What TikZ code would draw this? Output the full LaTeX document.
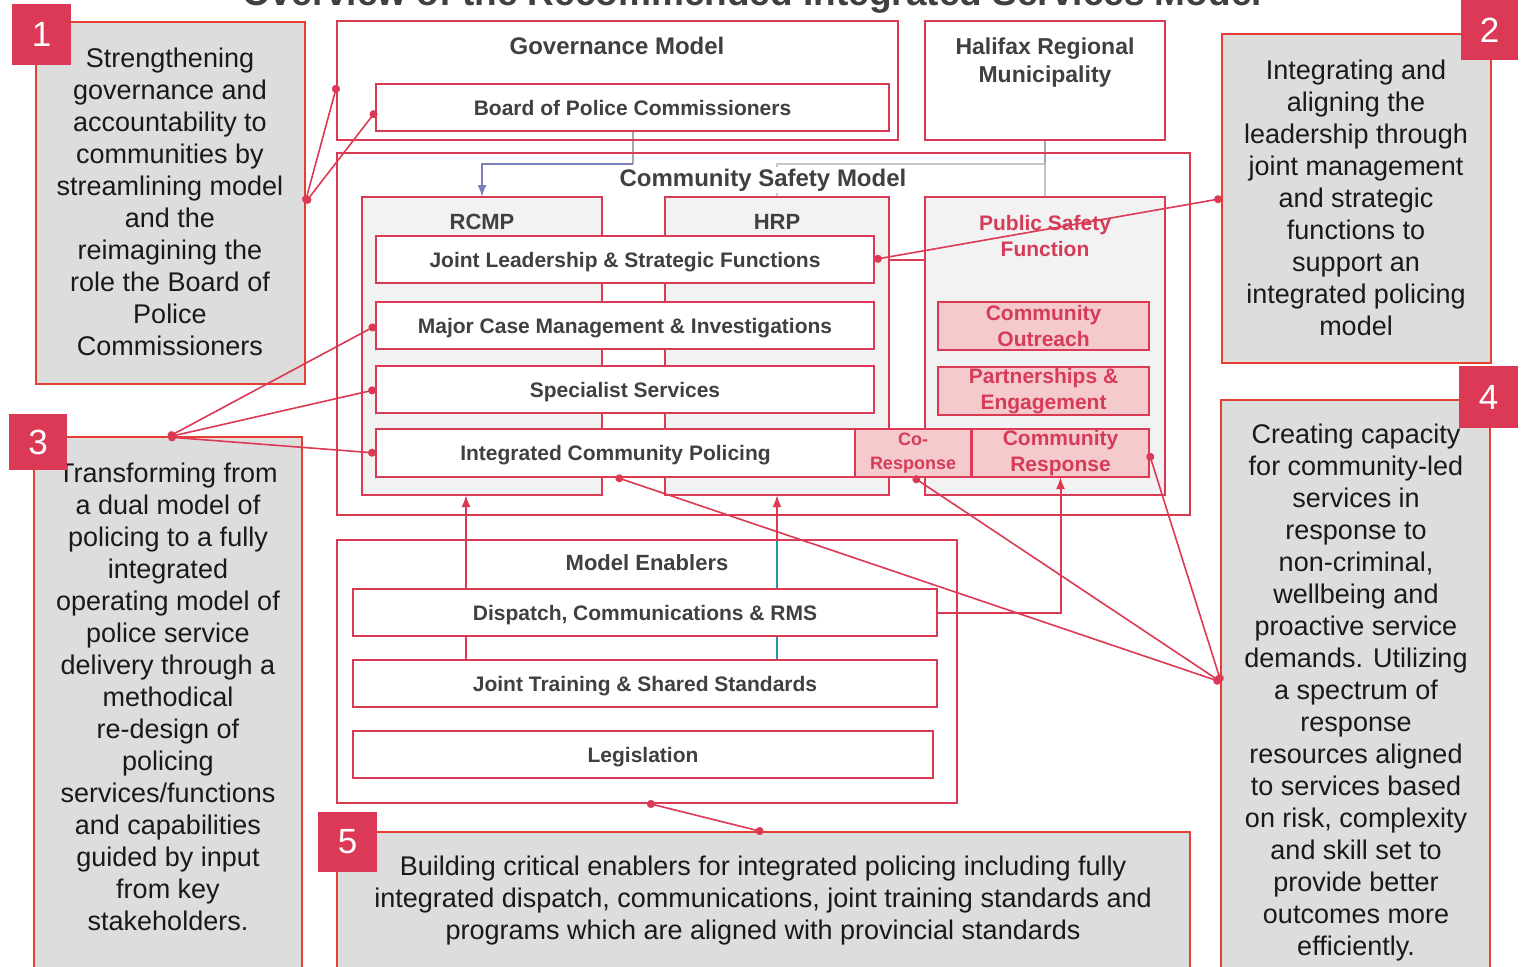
\documentclass[tikz,border=0pt]{standalone}
\usepackage{fontspec}
\setmainfont{Liberation Sans}
\usetikzlibrary{arrows.meta,backgrounds}
\definecolor{boxred}{HTML}{DC3955}
\definecolor{calloutred}{HTML}{E63E32}
\definecolor{calloutfill}{HTML}{DDDDDD}
\definecolor{tagred}{HTML}{DB3956}
\definecolor{pinkfill}{HTML}{F4CACC}
\definecolor{pinktext}{HTML}{D63C58}
\definecolor{labelgray}{HTML}{404040}
\definecolor{unitfill}{HTML}{F2F2F2}
\definecolor{linkblue}{HTML}{7C7FBC}
\definecolor{linkteal}{HTML}{1B9AAA}

\begin{document}
\begin{tikzpicture}[x=0.5pt, y=-0.5pt,
  boxsize/.style 2 args={minimum width=#1*0.5pt, minimum height=#2*0.5pt},
  redbox/.style={draw=boxred, line width=1pt, inner sep=0pt, outer sep=0pt},
  unitbox/.style={redbox, fill=unitfill},
  rowbox/.style={redbox, fill=white, font=\bfseries\fontsize{10.5}{13}\selectfont, text=labelgray, text height=8pt, text depth=0.5pt},
  pinkrow/.style={redbox, fill=pinkfill, font=\bfseries\fontsize{10.5}{13}\selectfont, text=pinktext, align=center},
  headtext/.style={font=\bfseries\fontsize{12}{14}\selectfont, text=labelgray, inner sep=1pt, align=center},
  callout/.style={draw=calloutred, line width=1pt, fill=calloutfill, inner sep=0pt, outer sep=0pt},
  callouttext/.style={font=\fontsize{13.5}{16}\selectfont, text=black!90, align=center, inner sep=0pt},
  numtag/.style={fill=tagred, text=white, font=\fontsize{17.5}{20}\selectfont, inner sep=0pt},
  calloutlink/.style={draw=boxred, line width=0.8pt, {Circle[length=4pt]}-{Circle[length=4pt]}},
  feedline/.style={line width=1pt, -{Latex[length=6pt, width=4.5pt]}}
]
  \useasboundingbox (0,0) rectangle (1529,966);
  \node[font=\bfseries\fontsize{18.5}{22}\selectfont, text=labelgray, anchor=base, inner sep=0pt] (title) at (752,5) {Overview of the Recommended Integrated Services Model};

  \node[redbox, boxsize={561}{119}] (gov) at (617.5,80.5) {};
  \node[headtext] (govtitle) at (617,46) {Governance Model};
  \node[rowbox, boxsize={513}{47}] (board) at (632.5,107.5) {Board of Police Commissioners};
  \node[redbox, boxsize={240}{119}] (hrm) at (1045,80.5) {};
  \node[headtext, font=\bfseries\fontsize{11.5}{14}\selectfont] (hrmtitle) at (1045,63) {Halifax Regional\\Municipality};

  \node[redbox, boxsize={853}{362}] (csm) at (763.5,334) {};
  \node[unitbox, boxsize={240}{298}] (rcmp) at (482,346) {};
  \node[unitbox, boxsize={224}{298}] (hrp) at (777,346) {};
  \node[unitbox, boxsize={240}{298}] (psf) at (1045,346) {};
  \node[headtext, fill=white] (csmtitle) at (763,180) {Community Safety Model};
  \node[headtext, font=\bfseries\fontsize{11}{13}\selectfont] (rcmplabel) at (482,222) {RCMP};
  \node[headtext, font=\bfseries\fontsize{11}{13}\selectfont] (hrplabel) at (777,222) {HRP};
  \node[headtext, text=pinktext, font=\bfseries\fontsize{10.5}{13}\selectfont] (psflabel) at (1045,236) {Public Safety\\Function};

  \node[rowbox, boxsize={498}{47}] (jlsf) at (625,259.5) {Joint Leadership \& Strategic Functions};
  \node[rowbox, boxsize={498}{47}] (mcmi) at (625,325.5) {Major Case Management \& Investigations};
  \node[rowbox, boxsize={498}{47}] (spec) at (625,389.5) {Specialist Services};
  \node[rowbox, boxsize={479}{48}] (icp) at (615.5,453) {Integrated Community Policing};
  \node[pinkrow, boxsize={116}{48}, font=\bfseries\fontsize{9}{12}\selectfont] (cores) at (913,453) {Co-\\Response};
  \node[pinkrow, boxsize={177}{48}] (comres) at (1060.5,453) {Community\\Response};
  \node[pinkrow, boxsize={211}{48}] (outreach) at (1043.5,326) {Community\\Outreach};
  \node[pinkrow, boxsize={211}{48}] (partner) at (1043.5,391) {Partnerships \&\\Engagement};

  \node[redbox, boxsize={620}{263}] (enablers) at (647,671.5) {};
  \node[headtext, font=\bfseries\fontsize{11}{13}\selectfont] (enablerstitle) at (647,563) {Model Enablers};
  \node[rowbox, boxsize={584}{47}] (dispatch) at (645,612.5) {Dispatch, Communications \& RMS};
  \node[rowbox, boxsize={584}{47}] (training) at (645,683.5) {Joint Training \& Shared Standards};
  \node[rowbox, boxsize={580}{47}] (legis) at (643,754.5) {Legislation};

  \node[callout, boxsize={269}{362}] (c1) at (170.5,203) {};
  \node[callouttext] (c1text) at (170,202) {Strengthening\\governance and\\accountability to\\communities by\\streamlining model\\and the\\reimagining the\\role the Board of\\Police\\Commissioners};
  \node[numtag, boxsize={59}{61}] (tag1) at (41.5,34.5) {1};

  \node[callout, boxsize={269}{329}] (c2) at (1356.5,198.5) {};
  \node[callouttext] (c2text) at (1356,198) {Integrating and\\aligning the\\leadership through\\joint management\\and strategic\\functions to\\support an\\integrated policing\\model};
  \node[numtag, boxsize={57}{60}] (tag2) at (1489.5,30) {2};

  \node[callout, boxsize={268}{553}] (c3) at (168,713.5) {};
  \node[callouttext] (c3text) at (168,697) {Transforming from\\a dual model of\\policing to a fully\\integrated\\operating model of\\police service\\delivery through a\\methodical\\re-design of\\policing\\services/functions\\and capabilities\\guided by input\\from key\\stakeholders.};
  \node[numtag, boxsize={58}{56}] (tag3) at (38,442) {3};

  \node[callout, boxsize={269}{590}] (c4) at (1355.5,695) {};
  \node[callouttext] (c4text) at (1356,692) {Creating capacity\\for community-led\\services in\\response to\\non-criminal,\\wellbeing and\\proactive service\\demands. Utilizing\\a spectrum of\\response\\resources aligned\\to services based\\on risk, complexity\\and skill set to\\provide better\\outcomes more\\efficiently.};
  \node[numtag, boxsize={59}{62}] (tag4) at (1488.5,397) {4};

  \node[callout, boxsize={853}{158}] (c5) at (763.5,911) {};
  \node[callouttext] (c5text) at (763,900) {Building critical enablers for integrated policing including fully\\integrated dispatch, communications, joint training standards and\\programs which are aligned with provincial standards};
  \node[numtag, boxsize={59}{60}] (tag5) at (347.5,842) {5};

  \begin{scope}[on background layer]
    \fill[white] (0,0) rectangle (1529,966);
    \coordinate (boardbend) at (632.5,164);
    \coordinate (hrmbend) at (1045,164);
    \draw[gray!70, line width=1pt] (board.south) -- (boardbend);
    \draw[linkblue, feedline] (boardbend) -| (rcmp.north);
    \draw[gray!70, line width=1pt] (hrm.south) -- (hrmbend);
    \draw[gray!45, line width=1pt] (hrmbend) -- (psf.north);
    \draw[gray!45, line width=1pt, -{Latex[length=4pt, width=4pt]}] (hrmbend) -| (hrp.north);
    \draw[boxred, line width=1pt] (jlsf.east) -- (jlsf.east -| psf.west);
    \draw[boxred, feedline] ([xshift=-8pt]rcmp.south |- training.north) -- ([xshift=-8pt]rcmp.south);
    \draw[linkteal, line width=1pt] (hrp.south |- training.north) -- (hrp.south |- enablers.north);
    \draw[boxred, feedline] (hrp.south |- enablers.north) -- (hrp.south);
  \end{scope}
  \draw[boxred, feedline] (dispatch.east) -| (comres.south);

  \draw[calloutlink] (c1.east) -- ([yshift=-2.25pt]gov.west);
  \draw[calloutlink] (c1.east) -- ([yshift=-1.75pt]board.west);
  \draw[calloutlink] (c2.west) -- (jlsf.east);
  \draw[calloutlink] (c3.north) -- (mcmi.west);
  \draw[calloutlink] (c3.north) -- (spec.west);
  \draw[calloutlink] (c3.north) -- (icp.west);
  \draw[calloutlink] ([yshift=6.5pt]c4.west) -- (icp.south);
  \draw[calloutlink] ([yshift=6.5pt]c4.west) -- (cores.south);
  \draw[calloutlink] ([yshift=6.5pt]c4.west) -- (comres.east);
  \draw[calloutlink] (c5.north) -- (enablers.south);
\end{tikzpicture}
\end{document}
